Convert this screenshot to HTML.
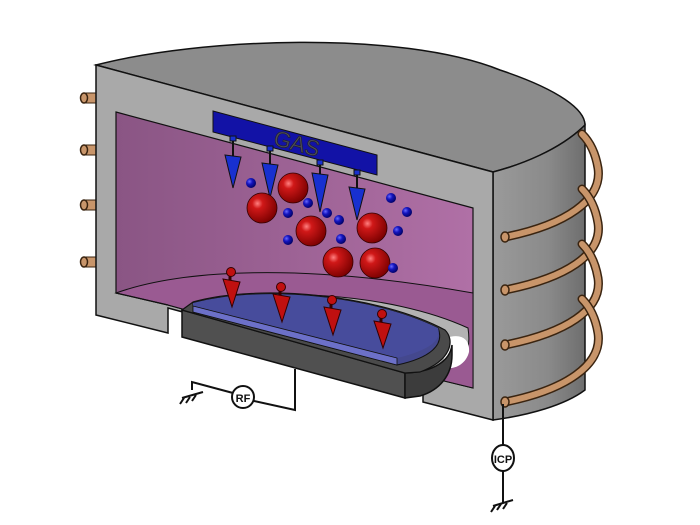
<!DOCTYPE html>
<html><head><style>html,body{margin:0;padding:0;background:#fff;width:700px;height:525px;overflow:hidden}</style></head>
<body>
<svg width="700" height="525" viewBox="0 0 700 525" xmlns="http://www.w3.org/2000/svg" font-family="Liberation Sans, sans-serif">
<defs>
<linearGradient id="side" x1="0" x2="1"><stop offset="0" stop-color="#9a9a9a"/><stop offset="0.6" stop-color="#8a8a8a"/><stop offset="1" stop-color="#6e6e6e"/></linearGradient>
<linearGradient id="pink" x1="0" x2="1"><stop offset="0" stop-color="#8a5584"/><stop offset="1" stop-color="#b070a6"/></linearGradient>
<radialGradient id="red" cx="0.35" cy="0.35" r="0.7"><stop offset="0" stop-color="#ff8080"/><stop offset="0.25" stop-color="#d01818"/><stop offset="1" stop-color="#7a0000"/></radialGradient>
<radialGradient id="blu" cx="0.35" cy="0.35" r="0.7"><stop offset="0" stop-color="#6a6aff"/><stop offset="0.4" stop-color="#1515c0"/><stop offset="1" stop-color="#000060"/></radialGradient>
</defs>
<!-- top face -->
<path d="M96,65 C200,38 400,30 500,70 C560,90 585,110 585,125 C560,150 520,165 493,172 Z" fill="#8c8c8c" stroke="#111" stroke-width="1.5"/>
<!-- right side -->
<path d="M493,172 C520,165 560,150 585,125 L585,390 C565,405 530,415 493,420 Z" fill="url(#side)" stroke="#111" stroke-width="1.5"/>
<!-- coils -->
<g fill="none" stroke-linecap="round">
<path d="M505,237 C565,225 603,200 598,168 C595,150 588,140 582,134" stroke="#3a2410" stroke-width="9"/>
<path d="M505,237 C565,225 603,200 598,168 C595,150 588,140 582,134" stroke="#c8956a" stroke-width="6"/>
<path d="M505,290 C565,278 603,255 598,223 C595,205 588,195 582,189" stroke="#3a2410" stroke-width="9"/>
<path d="M505,290 C565,278 603,255 598,223 C595,205 588,195 582,189" stroke="#c8956a" stroke-width="6"/>
<path d="M505,345 C565,333 603,310 598,278 C595,260 588,250 582,244" stroke="#3a2410" stroke-width="9"/>
<path d="M505,345 C565,333 603,310 598,278 C595,260 588,250 582,244" stroke="#c8956a" stroke-width="6"/>
<path d="M505,402 C565,390 603,365 598,333 C595,315 588,305 582,299" stroke="#3a2410" stroke-width="9"/>
<path d="M505,402 C565,390 603,365 598,333 C595,315 588,305 582,299" stroke="#c8956a" stroke-width="6"/>
</g>
<g fill="#c8956a" stroke="#3a2410" stroke-width="1.5">
<ellipse cx="505" cy="237" rx="4" ry="5"/><ellipse cx="505" cy="290" rx="4" ry="5"/><ellipse cx="505" cy="345" rx="4" ry="5"/><ellipse cx="505" cy="402" rx="4" ry="5"/>
</g>
<!-- left stubs -->
<g>
<rect x="84" y="93" width="12" height="10" fill="#c8956a" stroke="#3a2410"/><ellipse cx="84" cy="98" rx="3.5" ry="5" fill="#c8956a" stroke="#3a2410" stroke-width="1.5"/>
<rect x="84" y="145" width="12" height="10" fill="#c8956a" stroke="#3a2410"/><ellipse cx="84" cy="150" rx="3.5" ry="5" fill="#c8956a" stroke="#3a2410" stroke-width="1.5"/>
<rect x="84" y="200" width="12" height="10" fill="#c8956a" stroke="#3a2410"/><ellipse cx="84" cy="205" rx="3.5" ry="5" fill="#c8956a" stroke="#3a2410" stroke-width="1.5"/>
<rect x="84" y="257" width="12" height="10" fill="#c8956a" stroke="#3a2410"/><ellipse cx="84" cy="262" rx="3.5" ry="5" fill="#c8956a" stroke="#3a2410" stroke-width="1.5"/>
</g>
<!-- front face -->
<path d="M96,65 L493,172 L493,420 L423,402 L423,377 L168,308 L168,333 L96,315 Z" fill="#a9a9a9" stroke="#111" stroke-width="1.5"/>
<!-- cavity -->
<path d="M116,112 L473,208 L473,388 L432,378 L168,305 L116,293 Z" fill="url(#pink)" stroke="#111" stroke-width="1.2"/>
<path d="M116,293 C180,270 300,262 473,293 L473,388 L432,378 L168,305 Z" fill="#9a5a92" stroke="#111" stroke-width="1"/>
<path d="M185,308 C260,285 390,292 468,328 C472,355 462,368 440,370 L185,320 Z" fill="#b3b3b3" stroke="#111" stroke-width="1"/>
<path d="M446,338 C460,333 470,338 469,352 C466,364 455,370 443,368 Z" fill="#fff"/>
<path d="M116,293 L168,305" stroke="#111" stroke-width="1.2"/>
<!-- chuck -->
<path d="M182,310 L182,337 L405,398 L405,373 Z" fill="#505050" stroke="#111" stroke-width="1.5"/>
<path d="M405,373 L405,398 L420,396 C440,390 452,375 452,355 L452,345 C450,360 435,372 405,373 Z" fill="#3c3c3c" stroke="#111" stroke-width="1.5"/>
<path d="M182,310 L193,302 C260,283 380,295 445,330 C455,340 452,360 420,372 L405,373 Z" fill="#4a4a4a" stroke="#111" stroke-width="1.2"/>
<!-- wafer -->
<path d="M193,303 C260,285 370,295 438,328 C445,345 430,358 397,365 L193,312 Z" fill="#44488e" stroke="#111" stroke-width="1"/>
<path d="M193,303 C260,285 370,295 438,328 C442,340 430,350 397,358 L193,306 Z" fill="#474c9c"/>
<path d="M193,306 L397,358 L397,365 L193,312 Z" fill="#6c70c8" stroke="#111" stroke-width="0.8"/>
<!-- gas bar -->
<path d="M213,111 L377,155 L377,175 L213,132 Z" fill="#1212a6" stroke="#111" stroke-width="1"/>
<text x="297" y="151" font-size="22" fill="#4a4a5a" stroke="#222" stroke-width="0.6" text-anchor="middle" transform="rotate(15 297 143)">GAS</text>
<g fill="#1830d0" stroke="#111" stroke-width="1">
<rect x="230" y="136" width="6" height="5"/><rect x="267" y="146" width="6" height="5"/><rect x="317" y="160" width="6" height="5"/><rect x="354" y="170" width="6" height="5"/>
<path d="M233,141 V157 M270,151 V165 M320,165 V175 M357,175 V189" stroke-width="2"/>
<path d="M225,155 L241,157 L233,188 Z"/><path d="M262,163 L278,165 L270,198 Z"/><path d="M312,173 L328,175 L320,212 Z"/><path d="M349,187 L365,189 L357,220 Z"/>
</g>
<!-- particles -->
<g stroke="#300" stroke-width="0.8" fill="url(#red)">
<circle cx="262" cy="208" r="15"/><circle cx="293" cy="188" r="15"/><circle cx="311" cy="231" r="15"/><circle cx="372" cy="228" r="15"/><circle cx="338" cy="262" r="15"/><circle cx="375" cy="263" r="15"/>
</g>
<g fill="url(#blu)">
<circle cx="251" cy="183" r="5"/><circle cx="308" cy="203" r="5"/><circle cx="288" cy="213" r="5"/><circle cx="327" cy="213" r="5"/><circle cx="339" cy="220" r="5"/><circle cx="288" cy="240" r="5"/><circle cx="341" cy="239" r="5"/><circle cx="391" cy="198" r="5"/><circle cx="407" cy="212" r="5"/><circle cx="398" cy="231" r="5"/><circle cx="393" cy="268" r="5"/>
</g>
<!-- ion arrows -->
<g fill="#c01010" stroke="#300" stroke-width="1">
<path d="M230,276 V281 M280,291 V296 M331,304 V309 M381,318 V323" stroke-width="3"/>
<circle cx="231" cy="272" r="4.5"/><path d="M223,279 L240,282 L232,307 Z"/>
<circle cx="281" cy="287" r="4.5"/><path d="M273,294 L290,297 L282,322 Z"/>
<circle cx="332" cy="300" r="4.5"/><path d="M324,307 L341,310 L333,335 Z"/>
<circle cx="382" cy="314" r="4.5"/><path d="M374,321 L391,324 L383,348 Z"/>
</g>
<!-- wiring -->
<g fill="none" stroke="#111" stroke-width="2">
<path d="M192,390 L192,382 L233,393"/><path d="M254,401 L295,410 L295,369"/>
<path d="M182,398 L203,392 M184,398 L180,404 M190,397 L186,403 M196,395 L192,401"/>
<circle cx="243" cy="397" r="11" fill="#fff"/>
<path d="M503,404 V446 M503,470 V503"/>
<path d="M493,506 L513,500 M495,506 L491,512 M501,504 L497,510 M507,503 L503,509"/>
<ellipse cx="503" cy="458" rx="11" ry="13" fill="#fff"/>
</g>
<text x="243" y="402" font-size="11" font-weight="bold" text-anchor="middle" fill="#111">RF</text>
<text x="503" y="463" font-size="11" font-weight="bold" text-anchor="middle" fill="#111">ICP</text>
</svg>
</body></html>
